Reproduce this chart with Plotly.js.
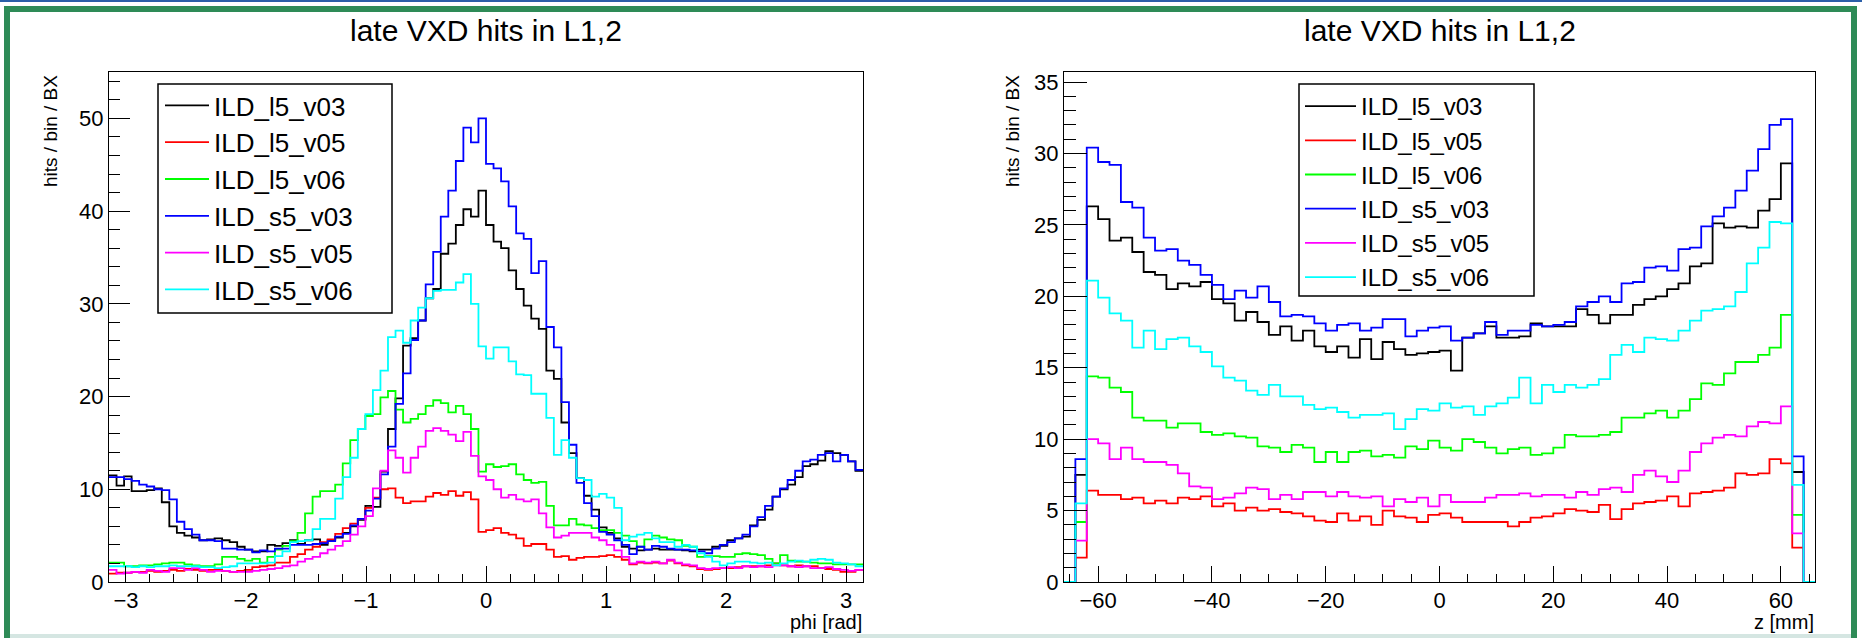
<!DOCTYPE html>
<html><head><meta charset="utf-8">
<script src="https://cdn.plot.ly/plotly-3.0.1.min.js"></script>
<style>html,body{margin:0;padding:0;background:#fff;overflow:hidden}#chart{width:1862px;height:638px}</style>
</head><body><div id="chart"></div>
<script>
// ---------------- data ----------------
const seriesNames  = ['ILD_l5_v03','ILD_l5_v05','ILD_l5_v06','ILD_s5_v03','ILD_s5_v05','ILD_s5_v06'];
const seriesColors = ['#000000','#ff0000','#00ff00','#0000ff','#ff00ff','#00ffff'];

const plotTitle = 'late VXD hits in L1,2';
const yTitle = 'hits / bin / BX';
const phiTitle = 'phi [rad]';
const zTitle = 'z [mm]';

// phi histogram: 100 bins over [-pi, pi]
const phiMin = -Math.PI, phiMax = Math.PI, phiBins = 100;
const phi_ILD_l5_v03 = [11.5,10.4,11.4,9.8,9.8,9.9,10.1,8.6,6.0,5.3, 5.0,4.8,4.5,4.6,4.7,4.5,4.3,3.8,3.5,3.3,
  3.3,4.0,3.9,4.2,4.5,4.1,4.5,4.6,4.0,4.5, 4.8,5.3,6.0,6.7,8.2,8.1,11.9,16.5,19.8,25.5,
  26.3,28.2,30.6,31.6,35.4,36.5,38.5,40.2,39.4,42.2, 38.5,36.7,36.0,33.6,31.6,29.8,28.4,27.3,22.8,21.9,
  17.2,13.9,11.2,9.3,7.8,5.9,5.3,4.7,3.8,3.6, 3.4,3.5,3.6,3.5,3.5,3.5,3.4,3.3,3.5,3.5,
  3.8,3.9,4.5,4.7,4.9,6.1,6.7,7.8,9.2,10.0, 10.5,11.3,12.5,12.7,13.1,14.1,13.9,13.7,13.0,12.0];
const phi_ILD_l5_v05 = [0.9,1.0,1.0,1.1,1.1,1.2,1.1,1.2,1.3,1.2, 1.4,1.3,1.2,1.3,1.3,1.2,1.1,1.2,1.3,1.6,
  1.7,1.8,2.1,2.1,2.7,3.0,3.5,3.8,4.3,4.6, 5.2,5.8,6.3,6.8,8.0,9.1,10.0,10.1,9.1,8.5,
  8.7,8.7,9.2,9.6,9.4,9.8,9.3,9.7,8.9,5.4, 5.6,5.8,5.3,5.1,4.7,3.9,4.1,4.1,3.5,2.7,
  2.8,2.4,2.6,2.7,2.7,2.8,2.9,2.7,2.4,1.9, 2.1,2.0,2.1,2.0,2.3,2.0,1.8,1.7,1.4,1.3,
  1.4,1.5,1.5,1.6,1.7,1.7,1.7,1.8,2.0,1.8, 1.7,1.8,1.7,1.7,1.5,1.4,1.3,1.1,1.1,1.3];
const phi_ILD_l5_v06 = [2.1,2.1,1.7,1.7,1.8,1.8,1.9,2.0,2.1,2.1, 1.9,1.8,1.7,1.7,1.9,2.7,2.7,2.5,2.3,2.5,
  2.1,2.7,3.5,3.9,4.4,5.3,7.4,9.2,9.8,9.8, 10.5,12.8,15.3,16.5,17.9,18.1,19.9,20.6,18.6,17.2,
  17.6,18.1,19.0,19.6,19.3,18.3,19.0,18.1,16.5,11.9, 12.7,12.4,12.5,12.7,11.6,11.0,10.7,10.8,8.2,6.1,
  6.1,6.8,6.2,6.1,5.8,5.6,5.6,5.3,5.0,4.4, 3.8,4.6,5.0,4.8,4.6,4.5,3.9,3.8,2.7,2.8,
  2.8,2.7,2.7,3.0,3.1,3.0,2.9,2.5,2.0,2.9, 2.3,2.2,2.2,2.1,2.0,2.0,1.9,1.9,1.9,1.9];
const phi_ILD_s5_v03 = [11.3,11.3,11.1,10.9,10.5,10.3,10.0,9.9,8.9,6.5, 5.7,5.1,4.5,4.5,4.4,3.6,3.6,3.5,3.5,3.2,
  3.4,3.3,3.6,3.6,4.0,4.0,4.0,4.1,4.2,4.4, 4.9,5.2,6.1,6.8,7.7,9.0,11.6,14.6,19.2,22.5,
  26.1,28.2,32.1,35.6,39.4,42.2,45.4,49.0,47.4,50.0, 45.1,44.6,43.2,40.5,37.6,37.0,33.3,34.6,27.5,25.3,
  19.4,14.8,10.7,8.5,7.1,5.4,5.1,4.5,4.0,3.0, 3.8,3.5,3.9,3.8,3.6,3.5,3.5,3.4,3.3,3.1,
  3.6,4.0,4.3,4.7,5.1,6.0,7.0,8.2,9.2,10.1, 11.0,12.0,13.0,13.2,13.7,13.9,13.0,13.7,13.0,12.1];
const phi_ILD_s5_v05 = [1.3,0.9,1.0,1.1,1.0,1.3,1.2,1.1,1.5,1.5, 1.3,1.5,1.3,1.1,1.2,1.2,1.1,1.1,1.1,1.2,
  1.3,1.4,1.5,1.7,1.8,2.2,2.5,2.7,3.1,3.5, 3.9,4.4,5.1,6.0,7.1,10.1,12.0,14.2,13.4,11.8,
  13.4,14.6,16.3,16.6,16.3,15.9,15.2,16.2,13.6,11.4, 11.0,10.0,9.1,9.4,8.9,8.7,8.9,7.4,5.9,4.8,
  5.0,5.3,5.3,5.3,4.8,4.5,4.0,3.4,2.7,2.0, 2.2,2.1,2.2,2.0,2.4,2.1,1.9,1.8,1.5,1.4,
  1.5,1.5,1.6,1.5,1.7,1.6,1.7,1.6,1.8,1.8, 1.7,1.6,1.7,1.5,1.5,1.6,1.4,1.3,1.2,1.3];
const phi_ILD_s5_v06 = [1.7,1.7,1.7,1.6,1.7,1.6,1.7,1.7,1.8,1.7, 1.7,1.7,1.6,1.6,1.5,1.6,1.7,2.0,2.0,2.0,
  2.0,2.1,2.8,3.3,4.3,4.4,4.5,5.7,6.8,6.8, 9.0,11.3,13.4,16.5,18.1,20.7,22.8,26.4,27.1,25.8,
  28.2,29.6,30.6,31.4,31.5,31.5,32.3,33.2,30.0,25.4, 24.1,25.3,25.3,23.8,22.4,22.3,20.3,20.3,17.7,13.7,
  15.3,13.4,11.2,11.0,9.2,9.5,9.1,8.0,4.5,4.9, 5.1,5.3,4.7,4.3,4.3,3.8,4.0,3.8,3.1,2.7,
  2.2,1.8,2.0,2.2,2.2,2.1,2.0,2.1,1.8,2.0, 2.2,2.3,2.2,2.4,2.5,2.4,2.1,2.0,1.9,1.7];

// z histogram: 66 bins over [-66, 66] mm
const zMin = -66, zMax = 66, zBins = 66;
const z_ILD_l5_v03 = [0,7.5,26.3,25.4,23.9,24.1,23.1,21.7,21.5,20.5, 20.9,20.7,21.0,19.8,19.5,18.3,18.9,18.2,17.3,17.9,
  16.9,17.6,16.5,16.1,16.5,15.7,17.0,15.6,16.8,16.3, 15.9,16.0,16.1,16.2,14.8,17.1,17.4,17.9,17.1,17.1,
  17.2,18.1,17.9,17.9,17.9,19.1,18.7,18.1,18.7,18.7, 19.4,19.8,20.0,20.5,20.9,22.1,22.3,25.1,24.8,24.9,
  24.8,26.0,26.8,29.3,7.7,0];
const z_ILD_l5_v05 = [0,1.7,6.4,6.1,6.1,5.8,5.9,5.5,5.7,5.5, 5.9,5.8,6.0,5.3,5.5,5.0,5.2,5.0,5.1,4.9,
  4.8,4.6,4.3,4.2,4.8,4.3,4.6,4.0,5.0,4.6, 4.5,4.2,4.7,4.8,4.5,4.2,4.2,4.2,4.2,3.9,
  4.2,4.5,4.6,4.8,5.1,5.0,4.9,5.4,4.4,5.1, 5.5,5.6,5.7,6.0,5.3,6.2,6.3,6.4,6.6,7.6,
  7.5,7.6,8.6,8.3,2.4,0];
const z_ILD_l5_v06 = [0,4.2,14.4,14.3,13.6,13.3,11.5,11.3,11.3,10.8, 11.1,11.1,10.5,10.3,10.4,10.2,10.1,9.5,9.4,9.1,
  9.6,9.4,8.4,9.1,8.4,9.1,9.2,8.8,8.9,8.7, 9.5,9.3,9.9,9.4,9.2,10.0,9.8,9.4,9.0,9.3,
  9.4,8.9,9.0,9.4,10.3,10.2,10.2,10.3,10.5,11.5, 11.5,11.8,12.0,11.5,12.0,12.8,13.9,13.8,14.6,15.4,
  15.4,15.9,16.4,18.7,4.7,0];
const z_ILD_s5_v03 = [0,8.6,30.4,29.4,29.2,26.6,26.2,24.1,23.2,23.3, 22.5,22.2,21.5,20.8,19.8,20.4,19.9,20.7,19.6,18.6,
  18.7,18.6,18.1,17.6,18.0,18.1,17.6,17.8,18.4,18.4, 17.2,17.6,17.8,17.9,16.9,17.1,17.4,18.2,17.3,17.6,
  17.6,18.0,17.9,18.0,18.2,19.3,19.6,20.0,19.6,20.9, 21.0,22.0,22.1,21.8,23.3,23.4,24.9,25.6,26.2,27.4,
  28.8,30.3,32.0,32.4,8.8,0];
const z_ILD_s5_v05 = [0,2.9,10.0,9.7,8.6,9.4,8.6,8.4,8.4,8.2, 7.6,6.7,6.6,5.8,5.9,6.2,6.6,6.5,5.8,6.1,
  5.8,6.3,6.3,6.0,6.3,6.0,5.9,6.0,5.3,5.8, 5.6,5.9,5.3,6.1,5.6,5.6,5.6,5.9,6.1,6.1,
  6.2,6.0,6.1,6.1,5.9,6.3,6.1,6.5,6.6,6.3, 7.5,7.8,7.4,7.0,7.8,9.1,9.7,10.1,10.3,10.2,
  10.9,11.2,11.1,12.3,3.4,0];
const z_ILD_s5_v06 = [0,5.5,21.1,19.9,18.8,18.3,16.4,17.6,16.3,17.0, 17.1,16.5,16.1,15.1,14.3,14.1,13.4,13.1,13.8,13.0,
  13.0,12.4,12.1,12.2,11.9,11.5,11.7,11.7,11.8,10.7, 11.4,12.1,12.0,12.5,12.2,12.3,11.7,12.3,12.5,12.9,
  14.3,12.5,13.8,13.3,13.8,13.6,13.8,14.2,15.9,16.6, 16.1,17.1,17.0,16.9,17.6,18.3,19.0,19.1,19.3,20.3,
  22.3,23.4,25.2,25.1,6.8,0];

const phiSeries = [phi_ILD_l5_v03, phi_ILD_l5_v05, phi_ILD_l5_v06, phi_ILD_s5_v03, phi_ILD_s5_v05, phi_ILD_s5_v06];
const zSeries   = [z_ILD_l5_v03, z_ILD_l5_v05, z_ILD_l5_v06, z_ILD_s5_v03, z_ILD_s5_v05, z_ILD_s5_v06];

// ---------------- drawing ----------------
const W = 1862, H = 638;
const px = x => x / W;
const py = y => 1 - y / H;

function binEdges(lo, hi, n) {
  const e = [];
  for (let k = 0; k <= n; k++) e.push(lo + (hi - lo) * k / n);
  return e;
}
function stepY(v) { return v.concat([v[v.length - 1]]); }

const phiEdges = binEdges(phiMin, phiMax, phiBins);
const zEdges = binEdges(zMin, zMax, zBins);

const FONT = 'Liberation Sans, Arial, Helvetica, sans-serif';
const traces = [];
seriesNames.forEach((name, i) => {
  traces.push({
    type: 'scatter', mode: 'lines', name: name,
    x: phiEdges, y: stepY(phiSeries[i]), xaxis: 'x', yaxis: 'y',
    line: {color: seriesColors[i], width: 1.8, shape: 'hv'},
    legend: 'legend', legendgroup: 'a' + i, hoverinfo: 'skip'
  });
});
seriesNames.forEach((name, i) => {
  traces.push({
    type: 'scatter', mode: 'lines', name: name,
    x: zEdges, y: stepY(zSeries[i]), xaxis: 'x2', yaxis: 'y2',
    line: {color: seriesColors[i], width: 1.8, shape: 'hv'},
    legend: 'legend2', legendgroup: 'b' + i, hoverinfo: 'skip'
  });
});

const axisCommon = {
  showgrid: false, zeroline: false, showline: true, linecolor: '#000', linewidth: 1.2,
  mirror: true, ticks: 'inside', tickcolor: '#000', tickwidth: 1.2,
  tickfont: {family: FONT, size: 22, color: '#000'}, fixedrange: true
};

const plotBox = {
  L: {x0: 109, x1: 863},
  R: {x0: 1064, x1: 1815},
  top: 72, bottom: 582
};

const layout = {
  width: W, height: H,
  margin: {l: 0, r: 0, t: 0, b: 0, pad: 0},
  paper_bgcolor: '#fff', plot_bgcolor: '#fff',
  showlegend: true,
  xaxis: Object.assign({}, axisCommon, {
    domain: [px(plotBox.L.x0), px(plotBox.L.x1)], anchor: 'y',
    range: [phiMin, phiMax], tickmode: 'linear', tick0: 0, dtick: 1, ticklen: 16, ticklabelstandoff: -2,
    minor: {ticks: 'inside', ticklen: 8, tick0: 0, dtick: 0.2, tickcolor: '#000', showgrid: false}
  }),
  yaxis: Object.assign({}, axisCommon, {
    domain: [py(plotBox.bottom), py(plotBox.top)], anchor: 'x',
    range: [0, 55.0], tickmode: 'linear', tick0: 0, dtick: 10, ticklen: 21,
    minor: {ticks: 'inside', ticklen: 11, tick0: 0, dtick: 2, tickcolor: '#000', showgrid: false}
  }),
  xaxis2: Object.assign({}, axisCommon, {
    domain: [px(plotBox.R.x0), px(plotBox.R.x1)], anchor: 'y2',
    range: [zMin, zMax], tickmode: 'linear', tick0: 0, dtick: 20, ticklen: 16, ticklabelstandoff: -2,
    minor: {ticks: 'inside', ticklen: 8, tick0: 0, dtick: 5, tickcolor: '#000', showgrid: false}
  }),
  yaxis2: Object.assign({}, axisCommon, {
    domain: [py(plotBox.bottom), py(plotBox.top)], anchor: 'x2',
    range: [0, 35.7], tickmode: 'linear', tick0: 0, dtick: 5, ticklen: 23,
    minor: {ticks: 'inside', ticklen: 12, tick0: 0, dtick: 1, tickcolor: '#000', showgrid: false}
  }),
  legend: {
    x: px(160), y: py(82), xanchor: 'left', yanchor: 'top',
    bgcolor: 'rgba(0,0,0,0)', borderwidth: 0, traceorder: 'grouped', tracegroupgap: 0,
    itemwidth: 44, font: {family: FONT, size: 26, color: '#000'}
  },
  legend2: {
    x: px(1300), y: py(84), xanchor: 'left', yanchor: 'top',
    bgcolor: 'rgba(0,0,0,0)', borderwidth: 0, traceorder: 'grouped', tracegroupgap: 0,
    itemwidth: 51, font: {family: FONT, size: 24, color: '#000'}
  },
  shapes: [
    // page frame
    {type: 'rect', xref: 'paper', yref: 'paper', x0: 0, x1: 1, y0: py(0), y1: py(2), fillcolor: '#2b5fa8', line: {width: 0}, layer: 'below'},
    {type: 'rect', xref: 'paper', yref: 'paper', x0: px(4), x1: px(1857), y0: py(6), y1: py(12), fillcolor: '#2e8b57', line: {width: 0}, layer: 'below'},
    {type: 'rect', xref: 'paper', yref: 'paper', x0: px(4), x1: px(10), y0: py(6), y1: py(638), fillcolor: '#2e8b57', line: {width: 0}, layer: 'below'},
    {type: 'rect', xref: 'paper', yref: 'paper', x0: px(1851), x1: px(1857), y0: py(6), y1: py(638), fillcolor: '#2e8b57', line: {width: 0}, layer: 'below'},
    {type: 'rect', xref: 'paper', yref: 'paper', x0: px(10), x1: px(1851), y0: py(634), y1: py(638), fillcolor: '#d5e6e2', line: {width: 0}, layer: 'below'},
    // legend boxes
    {type: 'rect', xref: 'paper', yref: 'paper', x0: px(158), x1: px(392), y0: py(313), y1: py(84), fillcolor: '#fff', line: {color: '#000', width: 1.5}, layer: 'above'},
    {type: 'rect', xref: 'paper', yref: 'paper', x0: px(1299), x1: px(1534), y0: py(296), y1: py(84), fillcolor: '#fff', line: {color: '#000', width: 1.5}, layer: 'above'}
  ],
  annotations: [
    {text: plotTitle, xref: 'paper', yref: 'paper', x: px((plotBox.L.x0 + plotBox.L.x1) / 2), y: py(31), xanchor: 'center', yanchor: 'middle', showarrow: false, font: {family: FONT, size: 30, color: '#000'}},
    {text: plotTitle, xref: 'paper', yref: 'paper', x: px((plotBox.R.x0 + plotBox.R.x1) / 2), y: py(31), xanchor: 'center', yanchor: 'middle', showarrow: false, font: {family: FONT, size: 30, color: '#000'}},
    {text: yTitle, xref: 'paper', yref: 'paper', x: px(50), y: py(73), xanchor: 'center', yanchor: 'top', textangle: -90, showarrow: false, font: {family: FONT, size: 19, color: '#000'}},
    {text: yTitle, xref: 'paper', yref: 'paper', x: px(1012), y: py(73), xanchor: 'center', yanchor: 'top', textangle: -90, showarrow: false, font: {family: FONT, size: 19, color: '#000'}},
    {text: phiTitle, xref: 'paper', yref: 'paper', x: px(864), y: py(622), xanchor: 'right', yanchor: 'middle', showarrow: false, font: {family: FONT, size: 20, color: '#000'}},
    {text: zTitle, xref: 'paper', yref: 'paper', x: px(1816), y: py(622), xanchor: 'right', yanchor: 'middle', showarrow: false, font: {family: FONT, size: 20, color: '#000'}}
  ]
};

Plotly.newPlot('chart', traces, layout, {displayModeBar: false, responsive: false});
</script>
</body></html>
